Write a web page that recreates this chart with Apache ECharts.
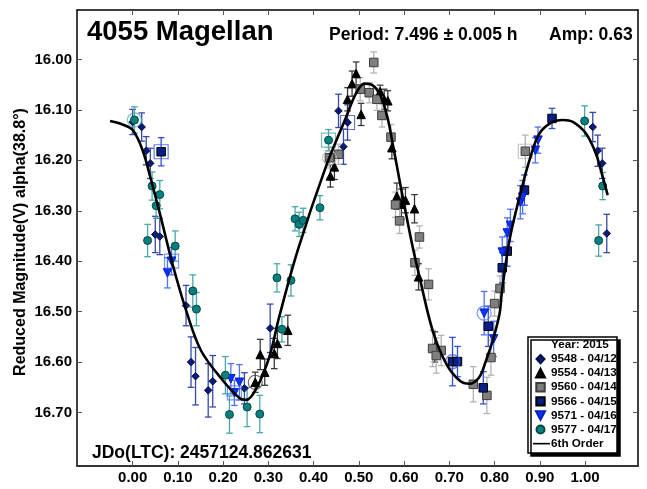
<!DOCTYPE html>
<html><head><meta charset="utf-8">
<script src="https://cdn.jsdelivr.net/npm/echarts@6/dist/echarts.min.js"></script>
<style>html,body{margin:0;padding:0;background:#fff}#c{width:647px;height:489px}</style>
</head><body><div id="c"></div>
<script>
// ---- data ----
const phaseTicks = [0, 0.1, 0.2, 0.3, 0.4, 0.5, 0.6, 0.7, 0.8, 0.9, 1.0];
const magTicks = [16.0, 16.1, 16.2, 16.3, 16.4, 16.5, 16.6, 16.7];
const legendNames = ['9548 - 04/12', '9554 - 04/13', '9560 - 04/14', '9566 - 04/15', '9571 - 04/16', '9577 - 04/17', '6th Order'];
// [phase, reduced magnitude, error]
const s9548 = [[0.000,16.124,0.025],[0.020,16.134,0.028],[0.030,16.181,0.028],[0.039,16.206,0.030],
  [0.050,16.347,0.036],[0.060,16.351,0.036],[0.118,16.488,0.040],[0.129,16.600,0.050],[0.139,16.628,0.057],
  [0.167,16.656,0.053],[0.177,16.638,0.051],[0.247,16.652,0.031],[0.304,16.533,0.048],
  [0.455,16.102,0.033],[0.475,16.125,0.035],[0.466,16.173,0.035],
  [1.017,16.134,0.029],[1.028,16.181,0.031],[1.038,16.206,0.030],[1.048,16.345,0.038]];
const s9554 = [[0.271,16.640,0.020],[0.292,16.620,0.026],[0.282,16.585,0.030],[0.313,16.583,0.030],
  [0.320,16.563,0.030],[0.343,16.537,0.030],[0.437,16.231,0.022],[0.446,16.213,0.025],[0.475,16.079,0.023],
  [0.485,16.048,0.025],[0.494,16.028,0.023],[0.505,16.109,0.022],[0.547,16.064,0.013],[0.556,16.079,0.020],
  [0.564,16.082,0.020],[0.573,16.175,0.022],[0.584,16.271,0.026],[0.594,16.287,0.030],[0.603,16.279,0.025],
  [0.623,16.296,0.028],[0.632,16.431,0.026],[0.668,16.570,0.030]];
const s9560 = [[0.533,16.006,0.021],[0.503,16.059,0.023],[0.523,16.066,0.020],[0.540,16.079,0.022],
  [0.551,16.111,0.023],[0.571,16.154,0.025],[0.581,16.288,0.025],[0.590,16.320,0.025],[0.435,16.195,0.020],
  [0.455,16.188,0.020],[0.634,16.352,0.022],[0.624,16.403,0.025],[0.654,16.446,0.031],[0.663,16.573,0.036],
  [0.682,16.577,0.030],[0.671,16.587,0.035],[0.868,16.182,0.032],[0.812,16.454,0.025],[0.800,16.484,0.025],
  [0.792,16.591,0.035],[0.753,16.644,0.035],[0.783,16.666,0.036]];
const s9566 = [[0.063,16.183,0.028],[0.707,16.599,0.048],[0.718,16.599,0.030],[0.775,16.651,0.032],
  [0.786,16.529,0.040],[0.817,16.413,0.030],[0.828,16.380,0.030],[0.866,16.259,0.030],[0.927,16.117,0.020]];
const s9571 = [[0.077,16.423,0.030],[0.086,16.400,0.027],[0.217,16.633,0.030],[0.225,16.661,0.025],
  [0.236,16.640,0.035],[0.777,16.503,0.043],[0.798,16.554,0.035],[0.817,16.382,0.030],[0.828,16.344,0.030],
  [0.835,16.329,0.032],[0.857,16.283,0.033],[0.862,16.273,0.033],[0.890,16.180,0.025],[0.896,16.160,0.026]];
const s9577 = [[0.004,16.120,0.026],[0.043,16.251,0.028],[0.060,16.268,0.028],[0.052,16.290,0.025],
  [0.033,16.359,0.032],[0.094,16.370,0.030],[0.133,16.459,0.032],[0.141,16.495,0.033],[0.205,16.626,0.037],
  [0.214,16.704,0.037],[0.253,16.689,0.039],[0.281,16.703,0.037],[0.319,16.433,0.028],[0.350,16.438,0.031],
  [0.330,16.535,0.025],[0.359,16.316,0.024],[0.368,16.327,0.024],[0.377,16.319,0.024],[0.414,16.294,0.024],
  [0.433,16.160,0.021],[0.999,16.122,0.030],[1.039,16.251,0.027],[1.030,16.359,0.031]];
// highlighted points (hollow outline): [phase, mag, session]
const ringCircles = [[0.004,16.120,'9577'],[0.271,16.640,'9554'],[0.435,16.195,'9560'],[0.777,16.503,'9571'],[0.707,16.599,'9566']];
const ringSquares = [[0.063,16.183,'9566'],[0.086,16.400,'9571'],[0.225,16.661,'9571'],[0.433,16.160,'9577'],[0.475,16.125,'9548'],[0.868,16.182,'9560']];
// 6th order Fourier fit
const fitCurve = [[-0.050,16.122],[-0.025,16.128],[0.000,16.140],[0.022,16.180],[0.041,16.240],[0.060,16.305],
  [0.088,16.405],[0.118,16.497],[0.151,16.577],[0.199,16.636],[0.236,16.671],[0.251,16.675],[0.273,16.653],
  [0.302,16.590],[0.324,16.510],[0.365,16.378],[0.427,16.213],[0.472,16.114],[0.494,16.067],[0.512,16.048],
  [0.530,16.051],[0.549,16.074],[0.564,16.118],[0.575,16.168],[0.590,16.240],[0.604,16.305],[0.619,16.372],
  [0.634,16.431],[0.663,16.537],[0.693,16.603],[0.722,16.636],[0.744,16.643],[0.766,16.630],[0.781,16.597],
  [0.796,16.557],[0.811,16.504],[0.816,16.462],[0.833,16.358],[0.855,16.273],[0.877,16.200],[0.899,16.147],
  [0.928,16.124],[0.951,16.120],[0.973,16.124],[1.002,16.147],[1.024,16.187],[1.039,16.233],[1.050,16.269]];

// ---- styles ----
const FONT = '"Liberation Sans", Arial, sans-serif';
const BOX = ' M0,0L0,0 M17,10L17,10';
const sessions = [
  {key:'9548', name:legendNames[0], data:s9548, symbol:'diamond', size:7.5, fill:'#0b1c78', border:'#06104a', err:'#3848a8',
   icon:'path://M7.5,0.8L11.5,5L7.5,9.2L3.5,5Z'+BOX},
  {key:'9554', name:legendNames[1], data:s9554, symbol:'triangle', size:8.5, fill:'#000000', border:'#000000', err:'#3a3a3a',
   icon:'path://M7.5,0.5L12,9.3L3,9.3Z'+BOX},
  {key:'9560', name:legendNames[2], data:s9560, symbol:'rect', size:8.5, fill:'#7f7f7f', border:'#3c3c3c', err:'#b4b4b4',
   icon:'path://M3.3,0.8L11.7,0.8L11.7,9.2L3.3,9.2Z'+BOX},
  {key:'9566', name:legendNames[3], data:s9566, symbol:'rect', size:8.5, fill:'#0a1f86', border:'#000000', err:'#3050d8',
   icon:'path://M3.3,0.8L11.7,0.8L11.7,9.2L3.3,9.2Z'+BOX},
  {key:'9571', name:legendNames[4], data:s9571, symbol:'path://M0,0L10,0L5,10Z', size:8.5, fill:'#1030ff', border:'#0020c0', err:'#5070ff',
   icon:'path://M3,0.8L12,0.8L7.5,9.3Z'+BOX},
  {key:'9577', name:legendNames[5], data:s9577, symbol:'circle', size:8, fill:'#0b7e7e', border:'#044848', err:'#4aa8a8',
   icon:'path://M3.5,5A4,4 0 1,0 11.5,5A4,4 0 1,0 3.5,5Z'+BOX}
];
const ringColor = {};
sessions.forEach(s => ringColor[s.key] = s.err);

const series = [];
sessions.forEach(s => {
  series.push({
    type:'custom', name:s.name+' err', data:s.data, xAxisIndex:0, yAxisIndex:0,
    encode:{x:0, y:1}, silent:true, z:2,
    renderItem:(params, api) => {
      const x = api.value(0), y = api.value(1), e = api.value(2);
      const p1 = api.coord([x, y - e]), p2 = api.coord([x, y + e]);
      const st = {stroke:s.err, lineWidth:1.3};
      return {type:'group', children:[
        {type:'line', shape:{x1:p1[0], y1:p1[1], x2:p2[0], y2:p2[1]}, style:st},
        {type:'line', shape:{x1:p1[0]-3.3, y1:p1[1], x2:p1[0]+3.3, y2:p1[1]}, style:st},
        {type:'line', shape:{x1:p2[0]-3.3, y1:p2[1], x2:p2[0]+3.3, y2:p2[1]}, style:st}
      ]};
    }
  });
  series.push({
    type:'scatter', name:s.name, data:s.data.map(d => [d[0], d[1]]), symbol:s.symbol, symbolSize:s.size,
    xAxisIndex:0, yAxisIndex:0, z:3,
    itemStyle:{color:s.fill, borderColor:s.border, borderWidth:1, opacity:1}
  });
});
const ringItem = r => ({value:[r[0], r[1]], itemStyle:{color:'rgba(0,0,0,0)', borderColor:ringColor[r[2]], borderWidth:1.2, opacity:0.75}});
series.push({type:'scatter', name:'rings-c', silent:true, z:4, symbol:'circle', symbolSize:14, data:ringCircles.map(ringItem)});
series.push({type:'scatter', name:'rings-s', silent:true, z:4, symbol:'rect', symbolSize:14, data:ringSquares.map(ringItem)});
series.push({
  type:'line', name:legendNames[6], data:fitCurve, smooth:0.35, symbol:'none', showSymbol:false, z:5,
  lineStyle:{color:'#000', width:2.6}, itemStyle:{color:'#000'}
});

const legendData = sessions.map(s => ({name:s.name, icon:s.icon}));
legendData.push({name:legendNames[6], icon:'path://M0,4.2L17,4.2L17,5.8L0,5.8Z'+BOX});

const tickStyle = {show:true, inside:true, length:5, lineStyle:{color:'#555', width:1}};
const option = {
  animation:false,
  backgroundColor:'#fff',
  grid:{left:77, right:9, top:10, bottom:23, containLabel:false, outerBoundsMode:'none'},
  xAxis:[
    {type:'value', position:'bottom', min:-0.123, max:1.117,
     axisLine:{show:true, lineStyle:{color:'#333', width:2}},
     axisTick:Object.assign({customValues:phaseTicks}, tickStyle),
     axisLabel:{customValues:phaseTicks, formatter:v => v.toFixed(2), margin:4, color:'#000', fontWeight:'bold', fontSize:15, fontFamily:FONT},
     splitLine:{show:false}},
    {type:'value', position:'top', min:-0.123, max:1.117,
     axisLine:{show:true, onZero:false, lineStyle:{color:'#000', width:1.5}},
     axisTick:Object.assign({customValues:phaseTicks}, tickStyle),
     axisLabel:{show:false}, splitLine:{show:false}}
  ],
  yAxis:[
    {type:'value', position:'left', inverse:true, min:15.902, max:16.806,
     axisLine:{show:true, onZero:false, lineStyle:{color:'#000', width:1.5}},
     axisTick:Object.assign({customValues:magTicks}, tickStyle),
     axisLabel:{customValues:magTicks, formatter:v => v.toFixed(2), margin:5, color:'#000', fontWeight:'bold', fontSize:15, fontFamily:FONT},
     splitLine:{show:false}},
    {type:'value', position:'right', inverse:true, min:15.902, max:16.806,
     axisLine:{show:true, onZero:false, lineStyle:{color:'#000', width:1.5}},
     axisTick:Object.assign({customValues:magTicks}, tickStyle),
     axisLabel:{show:false}, splitLine:{show:false}}
  ],
  legend:{
    show:true, orient:'vertical', left:532, top:352, padding:0, itemGap:0, itemWidth:17, itemHeight:10,
    z:110, selectedMode:false, symbolKeepAspect:true,
    data:legendData,
    textStyle:{color:'#000', fontWeight:'bold', fontSize:11.7, fontFamily:FONT, lineHeight:14.1, padding:[0,0,0,-4]}
  },
  graphic:[
    {type:'rect', z:100, shape:{x:528, y:337, width:89, height:116},
     style:{fill:'#fff', stroke:'#000', lineWidth:1.5, shadowColor:'#000', shadowOffsetX:3, shadowOffsetY:3, shadowBlur:0}},
    {type:'text', z:110, x:551, y:345, style:{text:'Year: 2015', font:'bold 11.7px '+FONT, fill:'#000', align:'left', verticalAlign:'middle'}},
    {type:'text', z:110, x:87, y:32, style:{text:'4055 Magellan', font:'bold 27.5px '+FONT, fill:'#000', align:'left', verticalAlign:'middle'}},
    {type:'text', z:110, x:329, y:35, style:{text:'Period: 7.496 ± 0.005 h', font:'bold 17.6px '+FONT, fill:'#000', align:'left', verticalAlign:'middle'}},
    {type:'text', z:110, x:549, y:35, style:{text:'Amp: 0.63', font:'bold 17.5px '+FONT, fill:'#000', align:'left', verticalAlign:'middle'}},
    {type:'text', z:110, x:92, y:453, style:{text:'JDo(LTC): 2457124.862631', font:'bold 17.5px '+FONT, fill:'#000', align:'left', verticalAlign:'middle'}},
    {type:'text', z:110, x:21, y:242, rotation:Math.PI/2, style:{text:'Reduced Magnitude(V) alpha(38.8°)', font:'bold 16px '+FONT, fill:'#000', align:'center', verticalAlign:'middle'}}
  ],
  series:series
};
const chart = echarts.init(document.getElementById('c'), null, {renderer:'canvas'});
chart.setOption(option);
</script></body></html>
